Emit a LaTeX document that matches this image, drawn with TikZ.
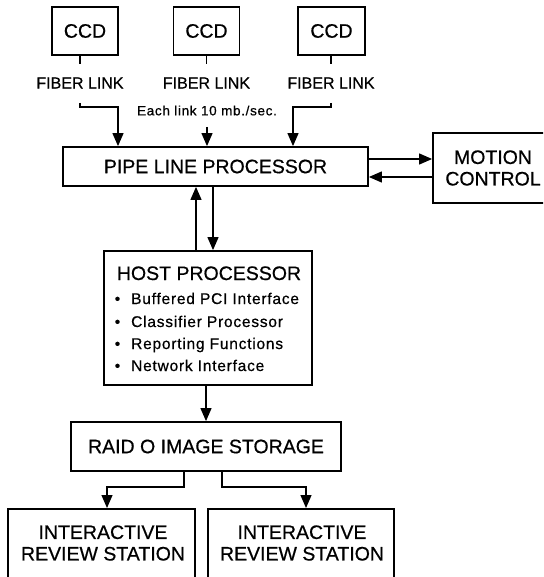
\documentclass[tikz,border=0pt]{standalone}
\usepackage{fontspec}
\setmainfont{Liberation Sans}
\newfontfamily\heavyfont[FakeBold=0.6]{Liberation Sans}
\newfontfamily\spacedfont[LetterSpace=5,FakeBold=0.6]{Liberation Sans}
\usetikzlibrary{arrows.meta}

\begin{document}
\begin{tikzpicture}[x=1pt,y=-1pt,
  box/.style={draw, line width=1.8pt, inner sep=0pt},
  lbl/.style={font=\heavyfont\fontsize{19.5}{21.5}\selectfont, inner sep=0pt},
  fiber/.style={font=\heavyfont\fontsize{16}{18}\selectfont, inner sep=0pt},
  note/.style={font=\spacedfont\fontsize{13.5}{15}\selectfont, inner sep=0pt},
  item/.style={font=\spacedfont\fontsize{15.5}{18}\selectfont, inner sep=0pt, anchor=base west},
  conn/.style={line width=1.2pt},
  arr/.style={conn, -{Triangle[length=13pt,width=11pt]}},
]
\clip (0,0) rectangle (543,577);

% camera heads and their fiber links
\node[box, lbl, minimum width=66pt, minimum height=48pt] (ccd1) at (85,31) {CCD};
\node[box, lbl, minimum width=66pt, minimum height=48pt] (ccd2) at (206.5,31) {CCD};
\node[box, lbl, minimum width=67pt, minimum height=48pt] (ccd3) at (331.5,31) {CCD};

\node[fiber] (fl1) at (80,83) {FIBER LINK};
\node[fiber] (fl2) at (206.5,83) {FIBER LINK};
\node[fiber] (fl3) at (331,83) {FIBER LINK};

\draw[conn] (ccd1.south -| fl1) -- ++(0,8);
\draw[conn] (ccd2.south -| fl2) -- ++(0,8);
\draw[conn] (ccd3.south -| fl3) -- ++(0,8);

\node[note] (rate) at (207,110.5) {Each link 10 mb./sec.};

% pipeline processor and motion control
\node[box, lbl, minimum width=305pt, minimum height=39pt] (pipe) at (215.5,166.5) {PIPE LINE PROCESSOR};
\node[box, lbl, align=center, minimum width=120pt, minimum height=70pt] (motion) at (493,168) {MOTION\\CONTROL};

\coordinate (s1) at (80,103);
\coordinate (s2) at (207,127);
\coordinate (s3) at (331,103);
\draw[arr] (s1) |- (118,107) -- (pipe.north -| 118,0);
\draw[arr] (s2) -- (pipe.north -| s2);
\draw[arr] (s3) |- (293,107) -- (pipe.north -| 293,0);

\draw[arr] (pipe.east |- 0,159) -- (motion.west |- 0,159);
\draw[arr] (motion.west |- 0,177) -- (pipe.east |- 0,177);

% host processor
\node[box, minimum width=208pt, minimum height=134pt] (host) at (208,318) {};
\node[lbl, anchor=base] (hostT) at (209,280) {HOST PROCESSOR};
\node[item] (h1) at (131,304) {\llap{•\hspace{11pt}}Buffered PCI Interface};
\node[item] (h2) at (131,327) {\llap{•\hspace{11pt}}Classifier Processor};
\node[item] (h3) at (131,349) {\llap{•\hspace{11pt}}Reporting Functions};
\node[item] (h4) at (131,371) {\llap{•\hspace{11pt}}Network Interface};

\draw[arr] (host.north -| 196,0) -- (pipe.south -| 196,0);
\draw[arr] (pipe.south -| 213,0) -- (host.north -| 213,0);

% storage and review stations
\node[box, lbl, minimum width=270pt, minimum height=49pt] (raid) at (206,446.5) {RAID O IMAGE STORAGE};
\draw[arr] (host.south -| raid.north) -- (raid.north);

\node[box, anchor=north, minimum width=187pt, minimum height=90pt] (rev1) at (101.5,508) {};
\node[box, anchor=north, minimum width=186pt, minimum height=90pt] (rev2) at (301,508) {};
\node[lbl, align=center] (rev1T) at (103,543) {INTERACTIVE\\REVIEW STATION};
\node[lbl, align=center] (rev2T) at (302,543) {INTERACTIVE\\REVIEW STATION};

\draw[arr] (raid.south -| 184,0) |- (107,487) -- (rev1.north -| 107,0);
\draw[arr] (raid.south -| 222,0) |- (306,487) -- (rev2.north -| 306,0);
\end{tikzpicture}
\end{document}
